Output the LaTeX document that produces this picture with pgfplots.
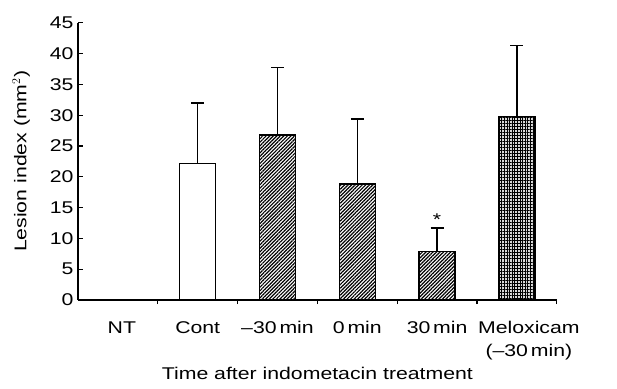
\documentclass[border=0pt]{standalone}
\usepackage{pgfplots}
\pgfplotsset{compat=1.18}
\usetikzlibrary{patterns,patterns.meta}
\usepackage{fontspec}
\setmainfont{Liberation Sans}[FakeStretch=1.25]
\begin{document}
\begin{tikzpicture}
\path[use as bounding box] (-78pt,-88pt) rectangle (539pt,300pt);
\begin{axis}[
  at={(0,0)}, anchor=south west,
  x=79.8pt, y=6.16pt,
  xmin=-0.5, xmax=5.5, ymin=0, ymax=45,
  axis x line*=bottom, axis y line*=left,
  axis line style={line width=1.4pt, -},
  xtick={0.05,1,2,3,4,5.15},
  xticklabels={NT,Cont,--30\,min,0\,min,30\,min,{Meloxicam\\(--30\,min)}},
  xticklabel style={align=center, yshift=-13pt, font=\fontsize{17}{23}\selectfont},
  major x tick style={draw=none},
  minor xtick={0.5,1.5,2.5,3.5,4.5,5.5},
  minor tick length=4pt,
  minor x tick style={line width=1.2pt, black},
  ytick={0,5,...,45},
  major tick length=5pt,
  tick align=inside,
  y tick style={line width=1.2pt, black},
  /pgf/number format/assume math mode=true,
  tick label style={font=\fontsize{17}{21}\selectfont},
  yticklabel style={xshift=-1pt},
  label style={font=\fontsize{17}{21}\selectfont},
  ylabel={Lesion index (mm$^{2}$)},
  xlabel={Time after indometacin treatment},
  xlabel style={yshift=0pt},
  ylabel style={yshift=13pt},
  clip=false,
  ybar, bar width=36pt, bar shift=0pt,
  error bars/y dir=plus, error bars/y explicit,
  error bars/error bar style={line width=1.3pt, black},
  error bars/error mark options={rotate=90, mark size=6.5pt, line width=1.3pt, black},
]
\addplot[draw=black, line width=1.4pt, fill=white] coordinates {(1,22.2) +- (0,9.8)};
\addplot[draw=black, line width=1.4pt, fill=white,
  postaction={pattern={Lines[angle=45,distance=2.5pt,line width=1.2pt]}, pattern color=black}]
  coordinates {(2,26.8) +- (0,10.9) (3,18.8) +- (0,10.6) (4,7.85) +- (0,3.85)};
\addplot[draw=black, line width=1.4pt, fill=black!15,
  postaction={pattern={Lines[angle=0,distance=3pt,line width=1pt]}, pattern color=black},
  postaction={pattern={Lines[angle=90,distance=2.6pt,line width=0.9pt]}, pattern color=black}]
  coordinates {(5,29.8) +- (0,11.5)};
\node[anchor=south, inner sep=1pt, font=\fontsize{17}{17}\selectfont] at (axis cs:4,11.9) {*};
\end{axis}
\end{tikzpicture}
\end{document}
